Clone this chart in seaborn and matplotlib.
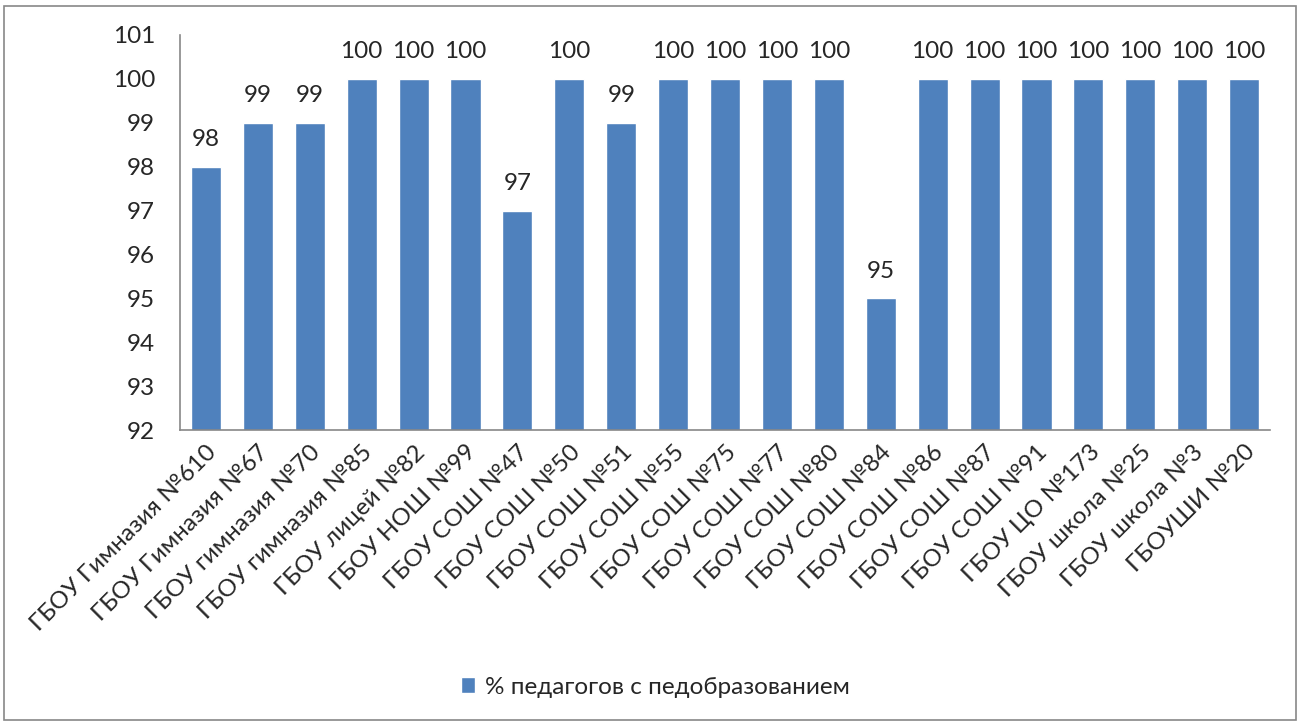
import matplotlib
matplotlib.use("Agg")
import matplotlib.pyplot as plt
import seaborn as sns
import pandas as pd
from matplotlib.patches import Rectangle, Patch

schools = ["ГБОУ Гимназия №610", "ГБОУ Гимназия №67", "ГБОУ гимназия №70",
           "ГБОУ гимназия №85", "ГБОУ лицей №82", "ГБОУ НОШ №99",
           "ГБОУ СОШ №47", "ГБОУ СОШ №50", "ГБОУ СОШ №51", "ГБОУ СОШ №55",
           "ГБОУ СОШ №75", "ГБОУ СОШ №77", "ГБОУ СОШ №80", "ГБОУ СОШ №84",
           "ГБОУ СОШ №86", "ГБОУ СОШ №87", "ГБОУ СОШ №91", "ГБОУ ЦО №173",
           "ГБОУ школа №25", "ГБОУ школа №3", "ГБОУШИ №20"]
values = [98, 99, 99, 100, 100, 100, 97, 100, 99, 100, 100,
          100, 100, 95, 100, 100, 100, 100, 100, 100, 100]
series_name = "% педагогов с педобразованием"
y_ticks = list(range(92, 102))

bar_color = "#4F81BD"
fs = 17.5

sns.set_theme(style="white")
plt.rcParams['font.family'] = ['Lato', 'DejaVu Sans']

df = pd.DataFrame({"school": schools, "value": values})

fig = plt.figure(figsize=(13, 7.24), dpi=100)
ax = fig.add_axes([0.1385, 0.406, 0.8385, 0.5457])

sns.barplot(data=df, x="school", y="value", color=bar_color, width=0.58,
            saturation=1, ax=ax)

ax.set_ylim(92, 101)
ax.set_yticks(y_ticks)
ax.set_yticklabels([str(t) for t in y_ticks], fontsize=fs)
ax.set_xlim(-0.5, len(schools) - 0.5)
ax.set_xlabel("")
ax.set_ylabel("")
ax.tick_params(axis="y", length=0, pad=18)
ax.tick_params(axis="x", length=0, pad=8)
plt.setp(ax.get_xticklabels(), rotation=45, ha="right",
         rotation_mode="anchor", fontsize=fs)

for side in ["top", "right"]:
    ax.spines[side].set_visible(False)
for side in ["left", "bottom"]:
    ax.spines[side].set_color("#888888")
    ax.spines[side].set_linewidth(1.2)

ax.bar_label(ax.containers[0], labels=[str(v) for v in values],
             padding=12, fontsize=fs, clip_on=False)

fig.legend(handles=[Patch(facecolor=bar_color, label=series_name)],
           loc="center", bbox_to_anchor=(0.504, 1 - 687 / 724), frameon=False,
           fontsize=fs, handlelength=0.6, handleheight=0.6, handletextpad=0.4)

# outer chart border
fig.patches.append(Rectangle((0.003, 0.006), 0.994, 0.986, transform=fig.transFigure,
                             fill=False, edgecolor="#888888", linewidth=1.2))

fig.savefig("out.png", dpi=100)
